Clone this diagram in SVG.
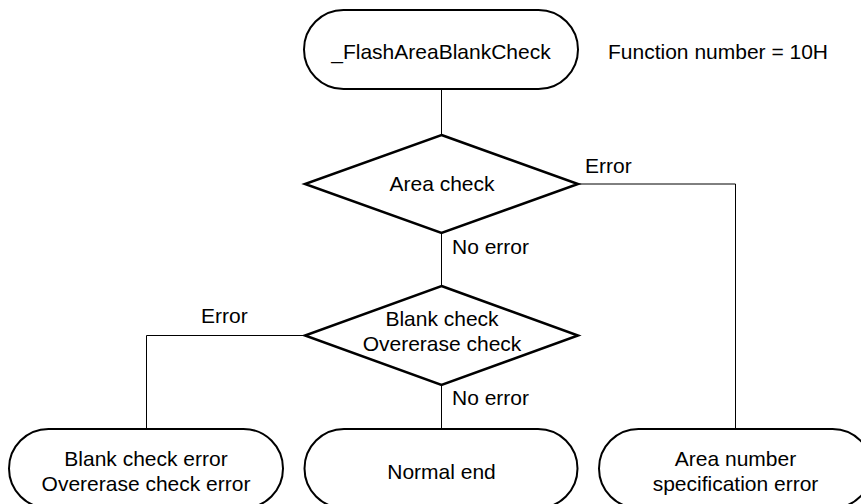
<svg xmlns="http://www.w3.org/2000/svg" width="861" height="504" viewBox="0 0 861 504">
<style>
  .term { fill: #fff; stroke: #000; stroke-width: 2; }
  .dec { fill: #fff; stroke: #000; stroke-width: 2.5; stroke-linejoin: miter; }
  .conn { fill: none; stroke: #000; stroke-width: 1; }
  text { font-family: "Liberation Sans", Arial, sans-serif; font-size: 21px; fill: #000; }
  .c { text-anchor: middle; }
</style>
<rect width="861" height="504" fill="#fff"/>
<g id="connectors">
  <path class="conn" d="M441.5,89 V135"/>
  <path class="conn" d="M578,184 H735.5 V429"/>
  <path class="conn" d="M441.5,233 V286"/>
  <path class="conn" d="M305,335.5 H146.5 V429"/>
  <path class="conn" d="M441.5,385 V429"/>
  <text x="585" y="173">Error</text>
  <text x="452" y="254">No error</text>
  <text x="201" y="323">Error</text>
  <text x="452" y="405">No error</text>
</g>
<g id="start">
  <rect class="term" x="304" y="10" width="274" height="79" rx="39.5" ry="39.5"/>
  <text class="c" x="441" y="59">_FlashAreaBlankCheck</text>
</g>
<g id="function-note">
  <text x="608" y="59">Function number = 10H</text>
</g>
<g id="area-check">
  <polygon class="dec" points="441.5,135 578,184 441.5,233 305,184"/>
  <text class="c" x="442" y="191">Area check</text>
</g>
<g id="blank-check">
  <polygon class="dec" points="441.5,286 578,335.5 441.5,385 305,335.5"/>
  <text class="c" x="442" y="326">Blank check</text>
  <text class="c" x="442" y="351">Overerase check</text>
</g>
<g id="blank-error">
  <rect class="term" x="9" y="429" width="274" height="79" rx="39.5" ry="39.5"/>
  <text class="c" x="146" y="466">Blank check error</text>
  <text class="c" x="146" y="491">Overerase check error</text>
</g>
<g id="normal-end">
  <rect class="term" x="304.5" y="429" width="273" height="79" rx="39.5" ry="39.5"/>
  <text class="c" x="441.5" y="479">Normal end</text>
</g>
<g id="area-error">
  <rect class="term" x="599" y="429" width="273" height="79" rx="39.5" ry="39.5"/>
  <text class="c" x="735.5" y="466">Area number</text>
  <text class="c" x="735.5" y="491">specification error</text>
</g>
</svg>
